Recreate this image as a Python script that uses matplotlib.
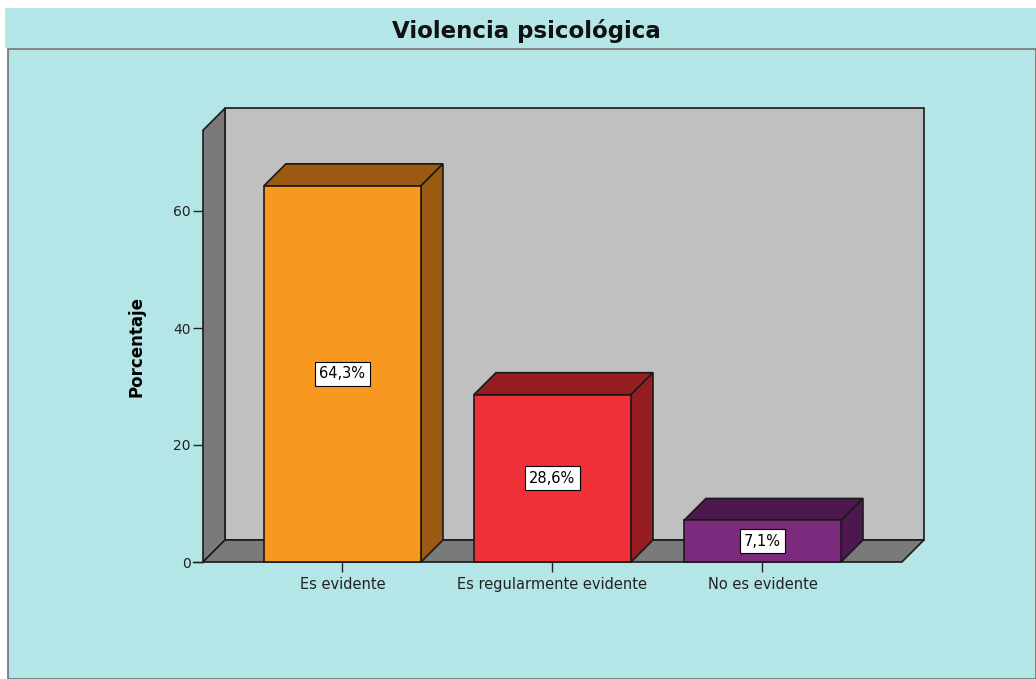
import matplotlib.pyplot as plt
from matplotlib.patches import Polygon, Rectangle

plt.rcParams['font.family'] = ['DejaVu Sans']

categories = ['Es evidente', 'Es regularmente evidente', 'No es evidente']
values = [64.3, 28.6, 7.1]
labels = ['64,3%', '28,6%', '7,1%']
front_colors = ['#F7991F', '#EF3039', '#7B2A7E']
dark_colors = ['#9A5A12', '#961D22', '#4D184E']
yticks = [0, 20, 40, 60]

W, H = 1036, 679
fig = plt.figure(figsize=(W / 100, H / 100), dpi=100)
fig.patch.set_facecolor('white')

bg = '#B4E6E8'
# title band and inner panel (behind the axes)
fig.patches.append(Rectangle((5 / W, 1 - 48 / H), 1 - 5 / W, 40 / H, transform=fig.transFigure,
                             facecolor=bg, edgecolor='none', zorder=-2))
fig.patches.append(Rectangle((8 / W, 0), 1 - 8 / W, 1 - 49 / H, transform=fig.transFigure,
                             facecolor=bg, edgecolor='#707070', lw=1.2, zorder=-2))
fig.text(526 / W, 1 - 31 / H, 'Violencia psicológica', ha='center', va='center',
         fontsize=16.5, fontweight='bold', color='#111111')

# axes: x in category units, y in percent
ppu_x = 210.0
ppu_y = 5.85
x_left, x_right = -0.664, 2.77
y_top = 78
ax = fig.add_axes([203 / W, (H - 562) / H, (x_right - x_left) * ppu_x / W, y_top * ppu_y / H])
ax.set_xlim(x_left, x_right)
ax.set_ylim(0, y_top)
ax.set_facecolor('none')
for s in ax.spines.values():
    s.set_visible(False)

dx = 22 / ppu_x
dy = 22 / ppu_y
wall_top = 73.8
x0, x1 = x_left, 2.664
ec = '#1a1a1a'

# back wall, left wall, floor
walls = [
    ([(x0 + dx, dy), (x1 + dx, dy), (x1 + dx, wall_top + dy), (x0 + dx, wall_top + dy)], '#C0C0C0'),
    ([(x0, 0), (x0 + dx, dy), (x0 + dx, wall_top + dy), (x0, wall_top)], '#7A7A7A'),
    ([(x0, 0), (x1, 0), (x1 + dx, dy), (x0 + dx, dy)], '#7A7A7A'),
]
for pts, c in walls:
    ax.add_patch(Polygon(pts, closed=True, facecolor=c, edgecolor=ec, lw=1.2, zorder=1, clip_on=False))

bw = 0.748
for i, (v, fc, dc, lab) in enumerate(zip(values, front_colors, dark_colors, labels)):
    l, r = i - bw / 2, i + bw / 2
    ax.add_patch(Polygon([(l, v), (r, v), (r + dx, v + dy), (l + dx, v + dy)],
                         closed=True, facecolor=dc, edgecolor=ec, lw=1.2, zorder=3))
    ax.add_patch(Polygon([(r, 0), (r + dx, dy), (r + dx, v + dy), (r, v)],
                         closed=True, facecolor=dc, edgecolor=ec, lw=1.2, zorder=3))
    ax.add_patch(Rectangle((l, 0), bw, v, facecolor=fc, edgecolor=ec, lw=1.2, zorder=4, clip_on=False))
    ax.text(i, v / 2, lab, ha='center', va='center', fontsize=10.5, zorder=5,
            bbox=dict(boxstyle='square,pad=0.3', facecolor='white', edgecolor='black', lw=0.8))

ax.set_yticks(yticks)
ax.set_yticklabels([str(t) for t in yticks], fontsize=10, color='#222222')
ax.set_xticks(range(len(categories)))
ax.set_xticklabels(categories, fontsize=10.5, color='#222222')
ax.tick_params(axis='y', length=7, width=1, color='#222222', pad=2)
ax.tick_params(axis='x', length=7, width=1, color='#222222', pad=4)
ax.plot([x0 - 10 / ppu_x, x0], [0, 0], color='#222222', lw=1, clip_on=False)
ax.set_ylabel('Porcentaje', fontsize=12, fontweight='bold')
ax.yaxis.set_label_coords(-0.08, (wall_top / 2) / y_top)

fig.savefig('out.png', dpi=100)
